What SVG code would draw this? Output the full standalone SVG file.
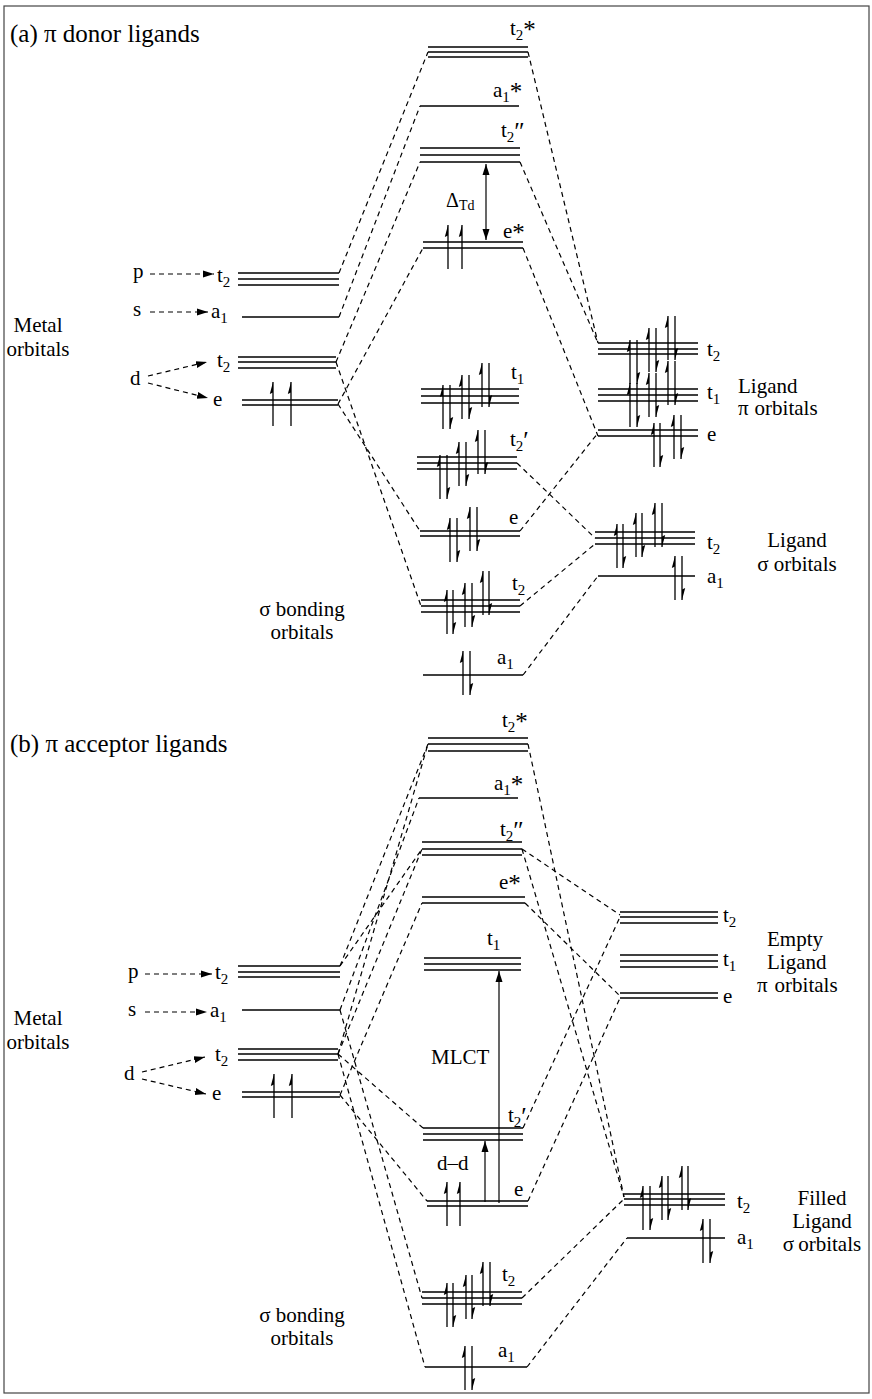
<svg xmlns="http://www.w3.org/2000/svg" width="872" height="1399" viewBox="0 0 872 1399">
<style>
.lv{stroke:#000;stroke-width:1.6;fill:none}
.dl{stroke:#000;stroke-width:1.2;stroke-dasharray:5 4;fill:none}
.ar{stroke:#000;stroke-width:1.2;fill:none}
.el path{stroke:#000;stroke-width:1.3;fill:none}
.el .hd{fill:#000;stroke:none}
text{font-family:"Liberation Serif","Times New Roman",serif;font-size:21px;fill:#000}
.s{font-size:15px}
.st{font-size:25px}
.ti{font-size:25px}
.frame{fill:none;stroke:#444;stroke-width:1.2}
</style>
<defs>
<marker id="ah" markerUnits="userSpaceOnUse" markerWidth="12" markerHeight="10" refX="11" refY="5" orient="auto">
<path d="M0,1.5L11,5L0,8.5Z" fill="#000"/>
</marker>
<marker id="ahs" markerUnits="userSpaceOnUse" markerWidth="12" markerHeight="10" refX="11" refY="5" orient="auto-start-reverse">
<path d="M0,1.5L11,5L0,8.5Z" fill="#000"/>
</marker>
<g id="u" class="el"><path d="M0,22V-22"/><path class="hd" d="M0,-22L-3.2,-10L0,-11.5Z"/></g>
<g id="d" class="el"><path d="M0,-22V22"/><path class="hd" d="M0,22L3.2,10L0,11.5Z"/></g>
</defs>
<rect class="frame" x="4" y="6" width="865" height="1387"/>

<!-- ===== (a) pi donor ligands ===== -->
<text class="ti" x="10" y="42">(a) π donor ligands</text>

<g id="a-metal">
<text x="38" y="332" text-anchor="middle">Metal</text>
<text x="38" y="356" text-anchor="middle">orbitals</text>
<text x="133" y="278">p</text>
<line class="dl" x1="150" y1="274" x2="214" y2="274" marker-end="url(#ah)"/>
<text x="217" y="282">t<tspan class="s" dy="5">2</tspan></text>
<path class="lv" d="M238,273H339M238,279H339M238,285H339"/>
<text x="133" y="316">s</text>
<line class="dl" x1="150" y1="312" x2="208" y2="312" marker-end="url(#ah)"/>
<text x="211" y="318">a<tspan class="s" dy="5">1</tspan></text>
<path class="lv" d="M242,317H339"/>
<text x="130" y="385">d</text>
<line class="dl" x1="148" y1="376" x2="207" y2="362" marker-end="url(#ah)"/>
<line class="dl" x1="148" y1="383" x2="208" y2="398" marker-end="url(#ah)"/>
<text x="217" y="367">t<tspan class="s" dy="5">2</tspan></text>
<path class="lv" d="M238,357H336M238,362H336M238,368H336"/>
<text x="213" y="406">e</text>
<path class="lv" d="M242,400H338M242,405H338"/>
<use href="#u" x="273" y="404"/><use href="#u" x="291" y="404"/>
</g>

<g id="a-t2star">
<path class="lv" d="M428,47H528M428,52H528M428,57H528"/>
<text x="510" y="35">t<tspan class="s" dy="5">2</tspan><tspan class="st" dy="-2">*</tspan></text>
</g>
<g id="a-a1star">
<path class="lv" d="M420,106H519"/>
<text x="493" y="97">a<tspan class="s" dy="5">1</tspan><tspan class="st" dy="-2">*</tspan></text>
</g>
<g id="a-t2pp">
<path class="lv" d="M420,148H520M420,155H520M420,162H520"/>
<text x="501" y="137">t<tspan class="s" dy="5">2</tspan><tspan class="st" dy="-2">″</tspan></text>
</g>
<g id="a-delta">
<line class="ar" x1="486" y1="164" x2="486" y2="240" marker-start="url(#ahs)" marker-end="url(#ahs)"/>
<text x="446" y="207" style="font-size:20px">Δ<tspan dy="3" style="font-size:14px">Td</tspan></text>
</g>
<g id="a-estar">
<path class="lv" d="M423,242H523M423,248H523"/>
<text x="503" y="238">e<tspan class="st" dy="3">*</tspan></text>
<use href="#u" x="448" y="247"/><use href="#u" x="462" y="247"/>
</g>
<g id="a-t1">
<path class="lv" d="M421,389H519M421,396H519M421,403H519"/>
<text x="511" y="379">t<tspan class="s" dy="5">1</tspan></text>
<use href="#u" x="443" y="407"/><use href="#d" x="450" y="407"/>
<use href="#u" x="462" y="397"/><use href="#d" x="469" y="397"/>
<use href="#u" x="482" y="385"/><use href="#d" x="489" y="385"/>
</g>
<g id="a-t2p">
<path class="lv" d="M417,457H517M417,463H517M417,469H517"/>
<text x="510" y="446">t<tspan class="s" dy="5">2</tspan><tspan class="st" dy="-2">′</tspan></text>
<use href="#u" x="440" y="477"/><use href="#d" x="447" y="477"/>
<use href="#u" x="459" y="464"/><use href="#d" x="466" y="464"/>
<use href="#u" x="478" y="452"/><use href="#d" x="485" y="452"/>
</g>
<g id="a-e">
<path class="lv" d="M420,531H520M420,536H520"/>
<text x="509" y="524">e</text>
<use href="#u" x="450" y="540"/><use href="#d" x="457" y="540"/>
<use href="#u" x="470" y="529"/><use href="#d" x="477" y="529"/>
</g>
<g id="a-t2">
<path class="lv" d="M421,600H520M421,606H520M421,612H520"/>
<text x="512" y="590">t<tspan class="s" dy="5">2</tspan></text>
<use href="#u" x="447" y="612"/><use href="#d" x="453" y="612"/>
<use href="#u" x="465" y="605"/><use href="#d" x="472" y="605"/>
<use href="#u" x="483" y="593"/><use href="#d" x="489" y="593"/>
</g>
<g id="a-a1">
<path class="lv" d="M423,675H523"/>
<text x="497" y="664">a<tspan class="s" dy="5">1</tspan></text>
<use href="#u" x="463" y="673"/><use href="#d" x="470" y="673"/>
</g>
<g id="a-sigma-label">
<text x="302" y="616" text-anchor="middle">σ bonding</text>
<text x="302" y="639" text-anchor="middle">orbitals</text>
</g>

<g id="a-ligand-pi">
<path class="lv" d="M598,343H698M598,349H698M598,354H698"/>
<path class="lv" d="M598,389H698M598,395H698M598,401H698"/>
<path class="lv" d="M598,430H698M598,436H698"/>
<text x="707" y="356">t<tspan class="s" dy="5">2</tspan></text>
<text x="707" y="399">t<tspan class="s" dy="5">1</tspan></text>
<text x="707" y="441">e</text>
<text x="738" y="393">Ligand</text>
<text x="738" y="415">π<tspan dx="6">orbitals</tspan></text>
<use href="#u" x="630" y="362"/><use href="#d" x="637" y="362"/>
<use href="#u" x="649" y="350"/><use href="#d" x="656" y="350"/>
<use href="#u" x="668" y="338"/><use href="#d" x="675" y="338"/>
<use href="#u" x="630" y="405"/><use href="#d" x="637" y="405"/>
<use href="#u" x="649" y="395"/><use href="#d" x="656" y="395"/>
<use href="#u" x="668" y="383"/><use href="#d" x="675" y="383"/>
<use href="#u" x="654" y="445"/><use href="#d" x="660" y="445"/>
<use href="#u" x="674" y="437"/><use href="#d" x="681" y="437"/>
</g>
<g id="a-ligand-sigma">
<path class="lv" d="M595,532H695M595,538H695M595,544H695"/>
<path class="lv" d="M598,576H695"/>
<text x="707" y="549">t<tspan class="s" dy="5">2</tspan></text>
<text x="707" y="583">a<tspan class="s" dy="5">1</tspan></text>
<text x="797" y="547" text-anchor="middle">Ligand</text>
<text x="797" y="571" text-anchor="middle">σ<tspan dx="5">orbitals</tspan></text>
<use href="#u" x="617" y="546"/><use href="#d" x="623" y="546"/>
<use href="#u" x="636" y="535"/><use href="#d" x="642" y="535"/>
<use href="#u" x="655" y="525"/><use href="#d" x="662" y="525"/>
<use href="#u" x="675" y="578"/><use href="#d" x="682" y="578"/>
</g>

<!-- ===== (b) pi acceptor ligands ===== -->
<text class="ti" x="10" y="752">(b) π acceptor ligands</text>

<g id="b-metal">
<text x="38" y="1025" text-anchor="middle">Metal</text>
<text x="38" y="1049" text-anchor="middle">orbitals</text>
<text x="128" y="978">p</text>
<line class="dl" x1="145" y1="974" x2="212" y2="974" marker-end="url(#ah)"/>
<text x="215" y="979">t<tspan class="s" dy="5">2</tspan></text>
<path class="lv" d="M238,966H340M238,972H340M238,977H340"/>
<text x="128" y="1016">s</text>
<line class="dl" x1="145" y1="1012" x2="207" y2="1012" marker-end="url(#ah)"/>
<text x="210" y="1017">a<tspan class="s" dy="5">1</tspan></text>
<path class="lv" d="M242,1010H340"/>
<text x="124" y="1080">d</text>
<line class="dl" x1="142" y1="1072" x2="205" y2="1057" marker-end="url(#ah)"/>
<line class="dl" x1="142" y1="1079" x2="206" y2="1094" marker-end="url(#ah)"/>
<text x="215" y="1061">t<tspan class="s" dy="5">2</tspan></text>
<path class="lv" d="M238,1049H338M238,1054H338M238,1060H338"/>
<text x="212" y="1100">e</text>
<path class="lv" d="M242,1092H340M242,1097H340"/>
<use href="#u" x="274" y="1096"/><use href="#u" x="292" y="1096"/>
</g>

<g id="b-t2star">
<path class="lv" d="M428,738H528M428,744H528M428,751H528"/>
<text x="502" y="727">t<tspan class="s" dy="5">2</tspan><tspan class="st" dy="-2">*</tspan></text>
</g>
<g id="b-a1star">
<path class="lv" d="M419,798H518"/>
<text x="494" y="790">a<tspan class="s" dy="5">1</tspan><tspan class="st" dy="-2">*</tspan></text>
</g>
<g id="b-t2pp">
<path class="lv" d="M422,842H522M422,849H522M422,855H522"/>
<text x="500" y="836">t<tspan class="s" dy="5">2</tspan><tspan class="st" dy="-2">″</tspan></text>
</g>
<g id="b-estar">
<path class="lv" d="M422,897H525M422,903H525"/>
<text x="499" y="889">e<tspan class="st" dy="3">*</tspan></text>
</g>
<g id="b-t1">
<path class="lv" d="M424,958H521M424,964H521M424,970H521"/>
<text x="487" y="945">t<tspan class="s" dy="5">1</tspan></text>
</g>
<g id="b-mlct">
<line class="ar" x1="499" y1="1203" x2="499" y2="971" marker-end="url(#ah)"/>
<text x="431" y="1064">MLCT</text>
</g>
<g id="b-t2p">
<path class="lv" d="M423,1128H523M423,1134H523M423,1140H523"/>
<text x="508" y="1122">t<tspan class="s" dy="5">2</tspan><tspan class="st" dy="-2">′</tspan></text>
</g>
<g id="b-dd">
<line class="ar" x1="485" y1="1202" x2="485" y2="1141" marker-end="url(#ah)"/>
<text x="437" y="1170">d–d</text>
</g>
<g id="b-e">
<path class="lv" d="M427,1201H528M427,1206H528"/>
<text x="514" y="1196">e</text>
<use href="#u" x="447" y="1204"/><use href="#u" x="460" y="1204"/>
</g>
<g id="b-t2">
<path class="lv" d="M422,1292H522M422,1298H522M422,1304H522"/>
<text x="502" y="1281">t<tspan class="s" dy="5">2</tspan></text>
<use href="#u" x="447" y="1305"/><use href="#d" x="453" y="1305"/>
<use href="#u" x="466" y="1297"/><use href="#d" x="472" y="1297"/>
<use href="#u" x="483" y="1284"/><use href="#d" x="490" y="1284"/>
</g>
<g id="b-a1">
<path class="lv" d="M425,1367H527"/>
<text x="498" y="1357">a<tspan class="s" dy="5">1</tspan></text>
<use href="#u" x="465" y="1368"/><use href="#d" x="472" y="1368"/>
</g>
<g id="b-sigma-label">
<text x="302" y="1322" text-anchor="middle">σ bonding</text>
<text x="302" y="1345" text-anchor="middle">orbitals</text>
</g>

<g id="b-ligand-pi">
<path class="lv" d="M620,912H718M620,917H718M620,923H718"/>
<path class="lv" d="M620,955H718M620,961H718M620,967H718"/>
<path class="lv" d="M620,993H718M620,998H718"/>
<text x="723" y="922">t<tspan class="s" dy="5">2</tspan></text>
<text x="723" y="966">t<tspan class="s" dy="5">1</tspan></text>
<text x="723" y="1003">e</text>
<text x="767" y="946">Empty</text>
<text x="767" y="969">Ligand</text>
<text x="757" y="992">π<tspan dx="7">orbitals</tspan></text>
</g>
<g id="b-ligand-sigma">
<path class="lv" d="M624,1194H725M624,1199H725M624,1205H725"/>
<path class="lv" d="M627,1238H725"/>
<text x="737" y="1208">t<tspan class="s" dy="5">2</tspan></text>
<text x="737" y="1244">a<tspan class="s" dy="5">1</tspan></text>
<text x="822" y="1205" text-anchor="middle">Filled</text>
<text x="822" y="1228" text-anchor="middle">Ligand</text>
<text x="822" y="1251" text-anchor="middle">σ<tspan dx="4">orbitals</tspan></text>
<use href="#u" x="643" y="1208"/><use href="#d" x="650" y="1208"/>
<use href="#u" x="662" y="1198"/><use href="#d" x="668" y="1198"/>
<use href="#u" x="682" y="1188"/><use href="#d" x="688" y="1188"/>
<use href="#u" x="703" y="1241"/><use href="#d" x="710" y="1241"/>
</g>

<g id="connectors">
<!-- (a) metal side -->
<line class="dl" x1="339" y1="273" x2="428" y2="52"/>
<line class="dl" x1="339" y1="317" x2="420" y2="106"/>
<line class="dl" x1="336" y1="362" x2="420" y2="162"/>
<line class="dl" x1="338" y1="404" x2="423" y2="248"/>
<line class="dl" x1="336" y1="362" x2="421" y2="606"/>
<line class="dl" x1="338" y1="404" x2="420" y2="531"/>
<!-- (a) ligand side -->
<line class="dl" x1="528" y1="52" x2="598" y2="343"/>
<line class="dl" x1="520" y1="162" x2="598" y2="343"/>
<line class="dl" x1="523" y1="248" x2="598" y2="436"/>
<line class="dl" x1="520" y1="531" x2="598" y2="433"/>
<line class="dl" x1="517" y1="463" x2="595" y2="538"/>
<line class="dl" x1="520" y1="606" x2="595" y2="544"/>
<line class="dl" x1="523" y1="675" x2="598" y2="576"/>
<!-- (b) metal side -->
<line class="dl" x1="340" y1="966" x2="428" y2="744"/>
<line class="dl" x1="338" y1="1054" x2="428" y2="744"/>
<line class="dl" x1="340" y1="1010" x2="419" y2="798"/>
<line class="dl" x1="338" y1="1054" x2="422" y2="849"/>
<line class="dl" x1="340" y1="966" x2="422" y2="849"/>
<line class="dl" x1="340" y1="1095" x2="422" y2="903"/>
<line class="dl" x1="338" y1="1054" x2="423" y2="1128"/>
<line class="dl" x1="340" y1="1095" x2="427" y2="1201"/>
<line class="dl" x1="340" y1="1010" x2="422" y2="1298"/>
<line class="dl" x1="338" y1="1054" x2="425" y2="1367"/>
<!-- (b) ligand side -->
<line class="dl" x1="528" y1="744" x2="624" y2="1197"/>
<line class="dl" x1="522" y1="849" x2="620" y2="915"/>
<line class="dl" x1="522" y1="849" x2="624" y2="1197"/>
<line class="dl" x1="525" y1="903" x2="620" y2="996"/>
<line class="dl" x1="523" y1="1128" x2="620" y2="917"/>
<line class="dl" x1="528" y1="1201" x2="620" y2="998"/>
<line class="dl" x1="522" y1="1298" x2="624" y2="1199"/>
<line class="dl" x1="527" y1="1367" x2="627" y2="1238"/>
</g>
</svg>
